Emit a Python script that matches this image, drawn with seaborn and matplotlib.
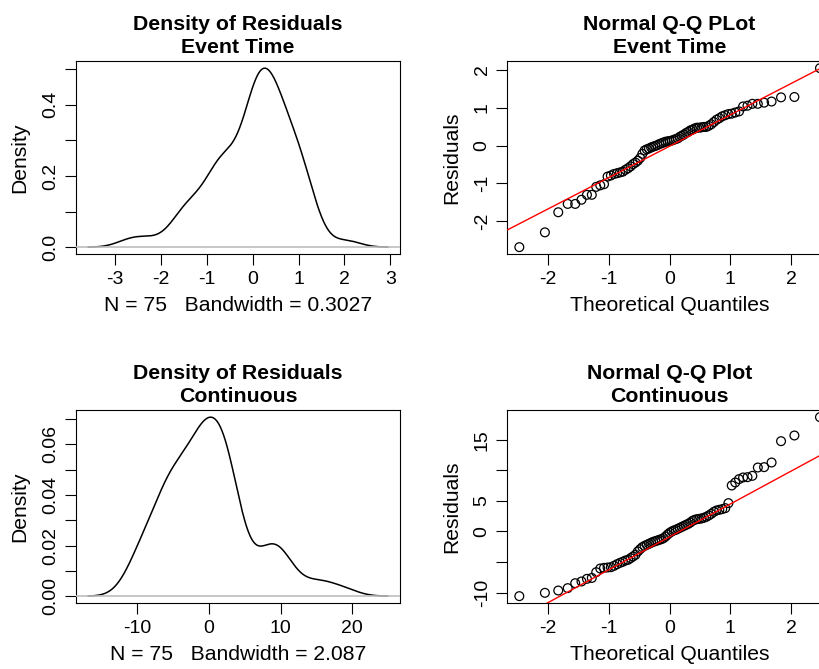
import numpy as np
import pandas as pd
import matplotlib
matplotlib.use("Agg")
import matplotlib.pyplot as plt
import seaborn as sns
from statistics import NormalDist

# ---- data (sorted residuals) ----
event_resid = [-2.68, -2.29, -1.76, -1.54, -1.54, -1.43, -1.30, -1.30, -1.09, -1.05,
               -1.02, -0.82, -0.79, -0.75, -0.73, -0.71, -0.69, -0.64, -0.60, -0.55,
               -0.49, -0.45, -0.40, -0.33, -0.22, -0.13, -0.10, -0.08, -0.05, -0.03,
               -0.01, 0.01, 0.04, 0.06, 0.08, 0.10, 0.11, 0.12, 0.13, 0.15,
               0.17, 0.19, 0.23, 0.26, 0.29, 0.33, 0.36, 0.40, 0.42, 0.45,
               0.47, 0.47, 0.48, 0.49, 0.49, 0.52, 0.56, 0.62, 0.68, 0.72,
               0.77, 0.80, 0.83, 0.84, 0.87, 0.90, 1.03, 1.05, 1.10, 1.10,
               1.13, 1.16, 1.27, 1.28, 2.04]
cont_resid = [-10.58, -10.04, -9.66, -9.27, -8.46, -8.18, -7.75, -7.60, -6.66, -6.06,
              -5.95, -5.89, -5.84, -5.62, -5.35, -5.13, -4.96, -4.75, -4.64, -4.36,
              -4.09, -3.82, -3.27, -2.89, -2.56, -2.35, -2.18, -2.02, -1.85, -1.69,
              -1.58, -1.47, -1.36, -1.25, -1.09, -0.82, -0.49, -0.22, 0.00, 0.16,
              0.27, 0.44, 0.60, 0.76, 0.93, 1.09, 1.25, 1.47, 1.75, 1.91,
              2.02, 2.07, 2.13, 2.24, 2.40, 2.62, 2.89, 3.22, 3.44, 3.55,
              3.66, 3.82, 4.64, 7.53, 8.02, 8.57, 8.84, 8.89, 9.11, 10.47,
              10.53, 11.29, 14.78, 15.71, 18.71]
event_bw = 0.3027
cont_bw = 2.087

event_dens_xticks = [-3, -2, -1, 0, 1, 2, 3]
event_dens_yticks = [0.0, 0.1, 0.2, 0.3, 0.4, 0.5]
event_dens_ylabels = ["0.0", "", "0.2", "", "0.4", ""]
cont_dens_xticks = [-10, 0, 10, 20]
cont_dens_yticks = [0.00, 0.01, 0.02, 0.03, 0.04, 0.05, 0.06, 0.07]
cont_dens_ylabels = ["0.00", "", "0.02", "", "0.04", "", "0.06", ""]
qq_xticks = [-2, -1, 0, 1, 2]
event_qq_yticks = [-2, -1, 0, 1, 2]
event_qq_ylabels = ["-2", "-1", "0", "1", "2"]
cont_qq_yticks = [-10, -5, 0, 5, 10, 15]
cont_qq_ylabels = ["-10", "", "0", "5", "", "15"]

titles = ["Density of Residuals\nEvent Time", "Normal Q-Q PLot\nEvent Time",
          "Density of Residuals\nContinuous", "Normal Q-Q Plot\nContinuous"]

# ---- style ----
sns.set_style("white")
plt.rcParams['font.family'] = ['Liberation Sans', 'DejaVu Sans']
plt.rcParams.update({
    "axes.edgecolor": "black",
    "axes.linewidth": 0.8,
    "xtick.major.size": 8,
    "ytick.major.size": 8,
    "xtick.major.width": 0.8,
    "ytick.major.width": 0.8,
    "xtick.major.pad": 4,
    "ytick.major.pad": 4,
    "xtick.bottom": True,
    "ytick.left": True,
    "xtick.color": "black",
    "ytick.color": "black",
    "xtick.labelsize": 14,
    "ytick.labelsize": 14,
    "axes.labelsize": 15.2,
    "text.color": "black",
    "axes.labelcolor": "black",
})

W, H = 820, 669
fig = plt.figure(figsize=(W / 100, H / 100), dpi=100)


def axes_px(l, t, r, b):
    return fig.add_axes([l / W, 1 - b / H, (r - l) / W, (b - t) / H])


def r_limits(lo, hi):
    pad = 0.04 * (hi - lo)
    return lo - pad, hi + pad


def finish(ax, title, xlabel, ylabel, xticks, yticks, ylabels):
    ax.set_xticks(xticks)
    ax.set_xticklabels([str(v) for v in xticks])
    ax.set_yticks(yticks)
    ax.set_yticklabels(ylabels, rotation=90, va="center")
    for s in ax.spines.values():
        s.set_visible(True)
        s.set_color("black")
    ax.set_title(title, fontsize=15.3, fontweight="bold", pad=6, linespacing=1.25)
    ax.set_xlabel(xlabel)
    ax.set_ylabel(ylabel)
    hpx = ax.get_position().height * H
    wpx = ax.get_position().width * W
    ax.xaxis.set_label_coords(0.5, -51 / hpx)
    ax.xaxis.label.set_va("center")
    ax.yaxis.set_label_coords(-56 / wpx, 0.5)
    ax.yaxis.label.set_va("center")


def density_panel(ax, data, bw, title, xticks, yticks, ylabels):
    x = np.asarray(data, dtype=float)
    factor = bw / x.std(ddof=1)
    sns.kdeplot(x=x, bw_method=factor, cut=3, gridsize=512, color="black",
                linewidth=1.1, ax=ax)
    line = ax.lines[-1]
    xd, yd = line.get_xdata(), line.get_ydata()
    ax.set_xlim(*r_limits(xd.min(), xd.max()))
    ax.set_ylim(*r_limits(0.0, yd.max()))
    ax.axhline(0, color="#bebebe", lw=1.2, zorder=3)
    finish(ax, title, f"N = {len(x)}   Bandwidth = {bw}", "Density",
           xticks, yticks, ylabels)


def qq_panel(ax, data, title, xticks, yticks, ylabels):
    y = np.sort(np.asarray(data, dtype=float))
    n = len(y)
    nd = NormalDist()
    theo = np.array([nd.inv_cdf((i - 0.5) / n) for i in range(1, n + 1)])
    df = pd.DataFrame({"theo": theo, "resid": y})
    sns.scatterplot(data=df, x="theo", y="resid", ax=ax, marker="o", s=40,
                    facecolor="none", edgecolor="black", linewidth=0.9, zorder=2)
    ax.set_xlim(*r_limits(theo.min(), theo.max()))
    ax.set_ylim(*r_limits(y.min(), y.max()))
    q1, q3 = np.quantile(y, [0.25, 0.75])
    t1, t3 = nd.inv_cdf(0.25), nd.inv_cdf(0.75)
    ax.axline((t1, q1), (t3, q3), color="red", lw=1.0, zorder=3)
    finish(ax, title, "Theoretical Quantiles", "Residuals", xticks, yticks, ylabels)


ax1 = axes_px(76, 61, 400, 254.3)
ax2 = axes_px(507.3, 61, 832, 254.3)
ax3 = axes_px(76, 410, 400, 603.3)
ax4 = axes_px(507.3, 410, 832, 603.3)

density_panel(ax1, event_resid, event_bw, titles[0], event_dens_xticks,
              event_dens_yticks, event_dens_ylabels)
qq_panel(ax2, event_resid, titles[1], qq_xticks, event_qq_yticks, event_qq_ylabels)
density_panel(ax3, cont_resid, cont_bw, titles[2], cont_dens_xticks,
              cont_dens_yticks, cont_dens_ylabels)
qq_panel(ax4, cont_resid, titles[3], qq_xticks, cont_qq_yticks, cont_qq_ylabels)

fig.savefig("out.png", dpi=100, facecolor="white")
